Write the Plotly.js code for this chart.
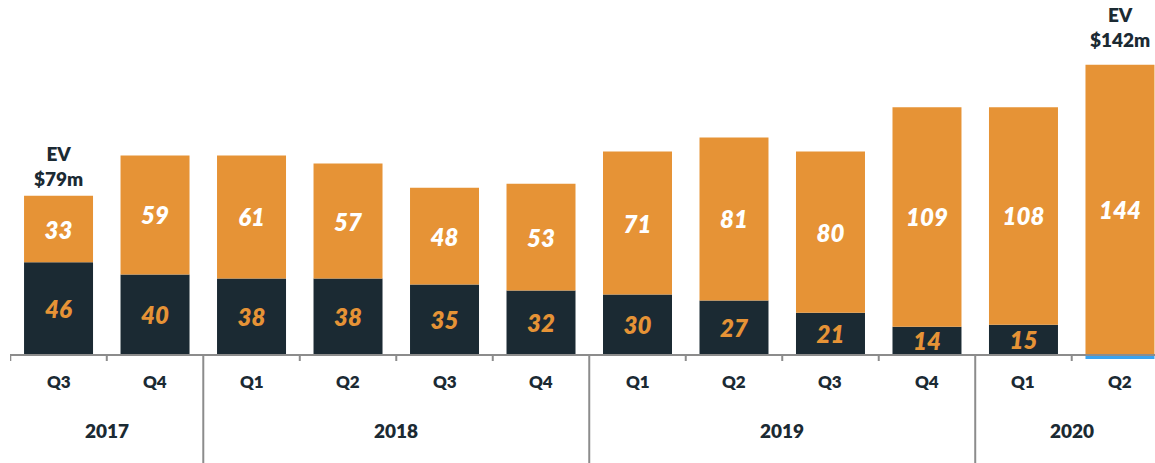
<!DOCTYPE html>
<html>
<head>
<meta charset="utf-8">
<script src="https://cdn.plot.ly/plotly-3.0.1.min.js"></script>
<style>
html,body{margin:0;padding:0;background:#fff;}
#chart{width:1155px;height:463px;}
</style>
</head>
<body>
<div id="chart"></div>
<script>
// ---- data ----
var quarters = ['Q3','Q4','Q1','Q2','Q3','Q4','Q1','Q2','Q3','Q4','Q1','Q2'];
var years    = ['2017','2017','2018','2018','2018','2018','2019','2019','2019','2019','2020','2020'];
var netDebt  = [46, 40, 38, 38, 35, 32, 30, 27, 21, 14, 15, null];   // navy segment
var netCash  = [null, null, null, null, null, null, null, null, null, null, null, -2]; // blue segment
var marketCap= [33, 59, 61, 57, 48, 53, 71, 81, 80, 109, 108, 144]; // orange segment
var evLabels = [{idx:0, text:'EV<br>$79m'}, {idx:11, text:'EV<br>$142m'}];
var yearGroups = [{year:'2017', from:0, to:1}, {year:'2018', from:2, to:5}, {year:'2019', from:6, to:9}, {year:'2020', from:10, to:11}];

var cats = quarters.map(function(q, i){ return q + ' ' + years[i]; });

var NAVY = '#1b2a33', ORANGE = '#e69336', BLUE = '#3aa3f0', GREY = '#8c8c8c';
var FONT = 'Lato, "Open Sans", sans-serif';

var traces = [
  {type:'bar', x:cats, y:netDebt, marker:{color:NAVY},
   text:netDebt.map(function(v){return v==null?'':String(v);}), textposition:'inside',
   insidetextanchor:'middle', textangle:0, constraintext:'none',
   textfont:{family:FONT, size:24, color:ORANGE, weight:800, style:'italic'},
   hoverinfo:'skip'},
  {type:'bar', x:cats, y:netCash, marker:{color:BLUE}, textposition:'none', hoverinfo:'skip'},
  {type:'bar', x:cats, y:marketCap, marker:{color:ORANGE},
   text:marketCap.map(String), textposition:'inside',
   insidetextanchor:'middle', textangle:0, constraintext:'none',
   textfont:{family:FONT, size:24, color:'#ffffff', weight:800, style:'italic'},
   hoverinfo:'skip'}
];

var xr = [-0.503, 11.363];
var plotH = 360; // px of plot area
function py(pix){ return (plotH - pix) / plotH; } // page pixel -> paper y

var shapes = [];
// baseline
shapes.push({type:'line', xref:'paper', yref:'y', x0:0, x1:1, y0:0, y1:0, line:{color:GREY, width:2}});
// boundary ticks
var groupStarts = yearGroups.map(function(g){return g.from;});
for (var b = 0; b < quarters.length; b++) {
  var xpos = b - 0.5;
  var isSep = groupStarts.indexOf(b) > 0;
  shapes.push({type:'line', xref:'x', yref:'paper', x0:xpos, x1:xpos,
    y0:py(355), y1: isSep ? py(463) : py(361), line:{color:GREY, width:2}});
}

var annotations = [];
quarters.forEach(function(q, i){
  annotations.push({xref:'x', yref:'paper', x:i, y:py(381), text:q, showarrow:false,
    yanchor:'middle', font:{family:FONT, size:17, color:NAVY, weight:800}});
});
yearGroups.forEach(function(g){
  annotations.push({xref:'x', yref:'paper', x:(g.from+g.to)/2, y:py(430), text:g.year, showarrow:false,
    yanchor:'middle', font:{family:FONT, size:19, color:NAVY, weight:800}});
});
evLabels.forEach(function(e, k){
  annotations.push({xref:'x', yref:'y', x:e.idx, y:netDebt[e.idx] == null ? marketCap[e.idx] : netDebt[e.idx] + marketCap[e.idx],
    text:e.text, showarrow:false,
    yanchor:'bottom', yshift: k===0 ? 4 : 12,
    font:{family:FONT, size:19, color:NAVY, weight:800}});
});

var layout = {
  width:1155, height:463,
  margin:{l:10, r:0, t:0, b:103, pad:0},
  paper_bgcolor:'#ffffff', plot_bgcolor:'#ffffff',
  barmode:'relative', bargap:0.285,
  showlegend:false,
  xaxis:{type:'category', range:xr, showticklabels:false, ticks:'', showgrid:false, zeroline:false, showline:false, fixedrange:true},
  yaxis:{range:[-2.48, 176.18], visible:false, showgrid:false, zeroline:false, fixedrange:true},
  shapes:shapes,
  annotations:annotations,
  font:{family:FONT}
};

Plotly.newPlot('chart', traces, layout, {displayModeBar:false, staticPlot:true});
</script>
</body>
</html>
